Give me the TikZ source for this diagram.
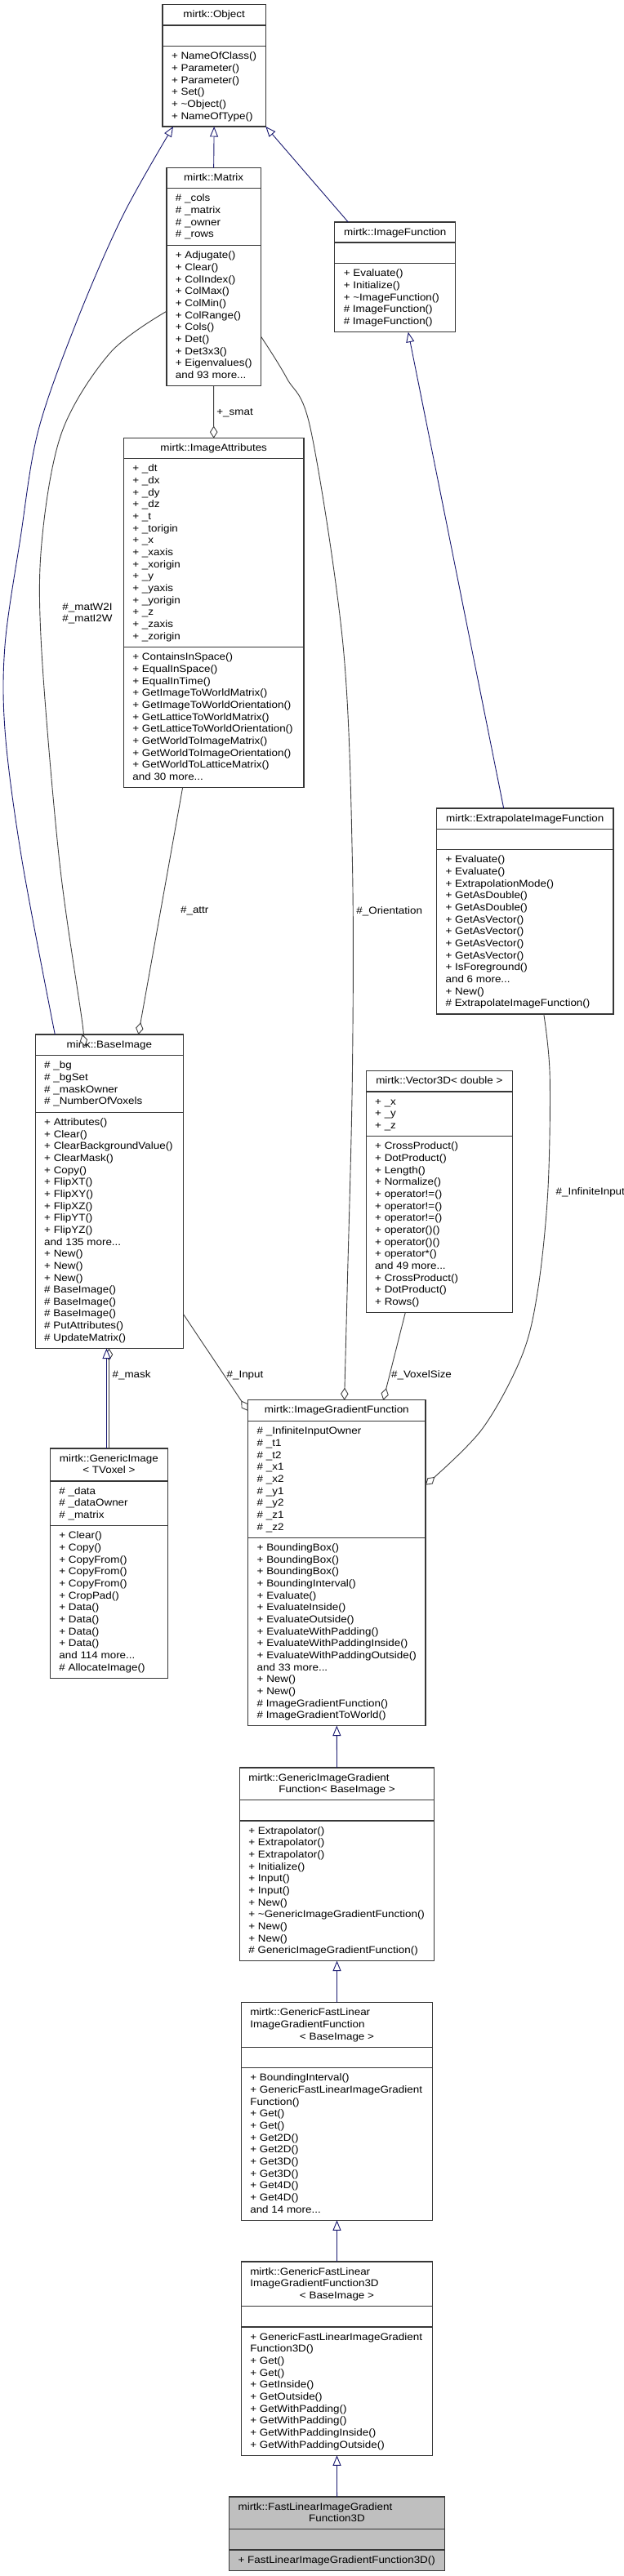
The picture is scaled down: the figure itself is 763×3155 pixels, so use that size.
\documentclass[tikz,border=0pt]{standalone}
\usepackage{fontspec}
\setmainfont{Liberation Sans}[FakeStretch=1.1]
\usetikzlibrary{arrows.meta,calc}
\definecolor{boxc}{RGB}{55,55,55}
\definecolor{inhc}{RGB}{25,25,112}
\definecolor{aggc}{RGB}{64,64,64}
\definecolor{mainfill}{RGB}{191,191,191}
\newcommand\umlfont{\fontsize{12.2}{14.65}\selectfont}
\newcommand\nl{\\\strut}
\tikzset{
  box/.style={draw=boxc, line width=1.2pt, inner sep=0pt, outer sep=0pt, anchor=north west},
  sepl/.style={draw=boxc, line width=1.2pt},
  txt/.style={inner sep=0pt, outer sep=0pt, align=left, font=\umlfont, anchor=north west},
  ttl/.style={inner sep=0pt, outer sep=0pt, align=center, font=\umlfont, anchor=north},
  lbl/.style={inner sep=0pt, outer sep=0pt, font=\umlfont, anchor=base west},
  inh/.style={draw=inhc, line width=0.9pt, -{Triangle[length=12.5pt, width=10pt, fill=white]}},
  agg/.style={draw=aggc, line width=0.9pt, -{Diamond[length=15pt, width=9.5pt, fill=white]}},
}
% name, x1, x2, top, sep1, sep2, bottom, fill
\newcommand\umlbox[8]{%
  \node[box, fill=#8, minimum width=#3pt-#2pt, minimum height=#7pt-#4pt] (#1) at (#2,#4) {};
  \draw[sepl] (#1.west |- 0,#5) -- (#1.east |- 0,#5);
  \draw[sepl] (#1.west |- 0,#6) -- (#1.east |- 0,#6);
}
% name, box, y of section top, text
\newcommand\sect[4]{\node[txt] (#1) at ($(#2.west |- 0,#3)+(11,6)$) {\strut #4};}
% name, box, text (centered title)
\newcommand\ctitle[3]{\node[ttl] (#1) at ($(#2.north)+(0,6)$) {\strut #3};}
\begin{document}
\begin{tikzpicture}[x=1pt,y=-1pt]
\fill[white] (0,0) rectangle (763,3155);
\useasboundingbox (0,0) rectangle (763,3155);

% ---------------- boxes ----------------
\umlbox{obj}{199.0}{325.3}{5.7}{31}{56.7}{155}{white}
\ctitle{obj-t}{obj}{mirtk::Object}
\sect{obj-m}{obj}{56.7}{+ NameOfClass()\nl + Parameter()\nl + Parameter()\nl + Set()\nl + \textasciitilde Object()\nl + NameOfType()}

\umlbox{mat}{203.9}{319.4}{205.7}{230.7}{300.7}{472.3}{white}
\ctitle{mat-t}{mat}{mirtk::Matrix}
\sect{mat-a}{mat}{230.7}{\# \_cols\nl \# \_matrix\nl \# \_owner\nl \# \_rows}
\sect{mat-m}{mat}{300.7}{+ Adjugate()\nl + Clear()\nl + ColIndex()\nl + ColMax()\nl + ColMin()\nl + ColRange()\nl + Cols()\nl + Det()\nl + Det3x3()\nl + Eigenvalues()\nl and 93 more...}

\umlbox{ifn}{409.8}{557.7}{272}{297}{322.7}{406.7}{white}
\ctitle{ifn-t}{ifn}{mirtk::ImageFunction}
\sect{ifn-m}{ifn}{322.7}{+ Evaluate()\nl + Initialize()\nl + \textasciitilde ImageFunction()\nl \# ImageFunction()\nl \# ImageFunction()}

\umlbox{iattr}{151.4}{372.0}{536.7}{561.7}{792.7}{964.7}{white}
\ctitle{iattr-t}{iattr}{mirtk::ImageAttributes}
\sect{iattr-a}{iattr}{561.7}{+ \_dt\nl + \_dx\nl + \_dy\nl + \_dz\nl + \_t\nl + \_torigin\nl + \_x\nl + \_xaxis\nl + \_xorigin\nl + \_y\nl + \_yaxis\nl + \_yorigin\nl + \_z\nl + \_zaxis\nl + \_zorigin}
\sect{iattr-m}{iattr}{792.7}{+ ContainsInSpace()\nl + EqualInSpace()\nl + EqualInTime()\nl + GetImageToWorldMatrix()\nl + GetImageToWorldOrientation()\nl + GetLatticeToWorldMatrix()\nl + GetLatticeToWorldOrientation()\nl + GetWorldToImageMatrix()\nl + GetWorldToImageOrientation()\nl + GetWorldToLatticeMatrix()\nl and 30 more...}

\umlbox{ext}{534.6}{750.9}{990}{1015.7}{1040.7}{1242}{white}
\ctitle{ext-t}{ext}{mirtk::ExtrapolateImageFunction}
\sect{ext-m}{ext}{1040.7}{+ Evaluate()\nl + Evaluate()\nl + ExtrapolationMode()\nl + GetAsDouble()\nl + GetAsDouble()\nl + GetAsVector()\nl + GetAsVector()\nl + GetAsVector()\nl + GetAsVector()\nl + IsForeground()\nl and 6 more...\nl + New()\nl \# ExtrapolateImageFunction()}

\umlbox{bimg}{43.2}{224.6}{1267}{1292.7}{1362.3}{1651.5}{white}
\ctitle{bimg-t}{bimg}{mirtk::BaseImage}
\sect{bimg-a}{bimg}{1292.7}{\# \_bg\nl \# \_bgSet\nl \# \_maskOwner\nl \# \_NumberOfVoxels}
\sect{bimg-m}{bimg}{1362.3}{+ Attributes()\nl + Clear()\nl + ClearBackgroundValue()\nl + ClearMask()\nl + Copy()\nl + FlipXT()\nl + FlipXY()\nl + FlipXZ()\nl + FlipYT()\nl + FlipYZ()\nl and 135 more...\nl + New()\nl + New()\nl + New()\nl \# BaseImage()\nl \# BaseImage()\nl \# BaseImage()\nl \# PutAttributes()\nl \# UpdateMatrix()}

\umlbox{v3}{448.2}{627.5}{1311.3}{1337}{1391.7}{1607.5}{white}
\ctitle{v3-t}{v3}{mirtk::Vector3D< double >}
\sect{v3-a}{v3}{1337}{+ \_x\nl + \_y\nl + \_z}
\sect{v3-m}{v3}{1391.7}{+ CrossProduct()\nl + DotProduct()\nl + Length()\nl + Normalize()\nl + operator!=()\nl + operator!=()\nl + operator!=()\nl + operator()()\nl + operator()()\nl + operator*()\nl and 49 more...\nl + CrossProduct()\nl + DotProduct()\nl + Rows()}

\umlbox{gimg}{61.4}{205.4}{1774}{1814}{1868.7}{2055.3}{white}
\ctitle{gimg-t}{gimg}{mirtk::GenericImage\nl < TVoxel >}
\sect{gimg-a}{gimg}{1814}{\# \_data\nl \# \_dataOwner\nl \# \_matrix}
\sect{gimg-m}{gimg}{1868.7}{+ Clear()\nl + Copy()\nl + CopyFrom()\nl + CopyFrom()\nl + CopyFrom()\nl + CropPad()\nl + Data()\nl + Data()\nl + Data()\nl + Data()\nl and 114 more...\nl \# AllocateImage()}

\umlbox{igf}{303.7}{520.9}{1714.7}{1740.7}{1883.3}{2113.5}{white}
\ctitle{igf-t}{igf}{mirtk::ImageGradientFunction}
\sect{igf-a}{igf}{1740.7}{\# \_InfiniteInputOwner\nl \# \_t1\nl \# \_t2\nl \# \_x1\nl \# \_x2\nl \# \_y1\nl \# \_y2\nl \# \_z1\nl \# \_z2}
\sect{igf-m}{igf}{1883.3}{+ BoundingBox()\nl + BoundingBox()\nl + BoundingBox()\nl + BoundingInterval()\nl + Evaluate()\nl + EvaluateInside()\nl + EvaluateOutside()\nl + EvaluateWithPadding()\nl + EvaluateWithPaddingInside()\nl + EvaluateWithPaddingOutside()\nl and 33 more...\nl + New()\nl + New()\nl \# ImageGradientFunction()\nl \# ImageGradientToWorld()}

\umlbox{gigf}{293.4}{531.7}{2165}{2204.7}{2230}{2401.5}{white}
\sect{gigf-t1}{gigf}{2165}{mirtk::GenericImageGradient}
\node[ttl] (gigf-t2) at ($(gigf.north)+(0,20.65)$) {\strut Function< BaseImage >};
\sect{gigf-m}{gigf}{2230}{+ Extrapolator()\nl + Extrapolator()\nl + Extrapolator()\nl + Initialize()\nl + Input()\nl + Input()\nl + New()\nl + \textasciitilde GenericImageGradientFunction()\nl + New()\nl + New()\nl \# GenericImageGradientFunction()}

\umlbox{gfl}{295.3}{529.7}{2452.7}{2507.3}{2532.7}{2719.3}{white}
\sect{gfl-t1}{gfl}{2452.7}{mirtk::GenericFastLinear\nl ImageGradientFunction}
\node[ttl] (gfl-t2) at ($(gfl.north)+(0,35.3)$) {\strut < BaseImage >};
\sect{gfl-m}{gfl}{2532.7}{+ BoundingInterval()\nl + GenericFastLinearImageGradient\nl Function()\nl + Get()\nl + Get()\nl + Get2D()\nl + Get2D()\nl + Get3D()\nl + Get3D()\nl + Get4D()\nl + Get4D()\nl and 14 more...}

\umlbox{gfl3}{295.3}{529.7}{2770}{2824.5}{2850}{3007.3}{white}
\sect{gfl3-t1}{gfl3}{2770}{mirtk::GenericFastLinear\nl ImageGradientFunction3D}
\node[ttl] (gfl3-t2) at ($(gfl3.north)+(0,35.3)$) {\strut < BaseImage >};
\sect{gfl3-m}{gfl3}{2850}{+ GenericFastLinearImageGradient\nl Function3D()\nl + Get()\nl + Get()\nl + GetInside()\nl + GetOutside()\nl + GetWithPadding()\nl + GetWithPadding()\nl + GetWithPaddingInside()\nl + GetWithPaddingOutside()}

\umlbox{fl3}{280.6}{544.5}{3058}{3097.5}{3123}{3148.7}{mainfill}
\sect{fl3-t1}{fl3}{3058}{mirtk::FastLinearImageGradient}
\node[ttl] (fl3-t2) at ($(fl3.north)+(0,20.65)$) {\strut Function3D};
\sect{fl3-m}{fl3}{3123}{+ FastLinearImageGradientFunction3D()}

% ---------------- helper coordinates ----------------
\coordinate (ifn-o) at ($(ifn.north west)+(16.5,0)$);
\coordinate (bimg-o) at ($(bimg.north west)+(24.1,0)$);
\coordinate (obj-b) at ($(obj.south west)+(13,0)$);
\coordinate (ext-i) at ($(ext.north west)+(82.1,0)$);
\coordinate (ifn-e) at ($(ifn.south west)+(90,0)$);
\coordinate (mat-w) at (mat.west |- 0,381.3);
\coordinate (bimg-m) at ($(bimg.north west)+(57.5,0)$);
\coordinate (iattr-b) at ($(iattr.south west)+(72.2,0)$);
\coordinate (bimg-a) at ($(bimg.north west)+(126.3,0)$);
\coordinate (mat-e) at (mat.east |- 0,412);
\coordinate (igf-o) at ($(igf.north west)+(117.9,0)$);
\coordinate (ext-b) at ($(ext.south west)+(131.2,0)$);
\coordinate (igf-i) at (igf.east |- 0,1818.7);
\coordinate (v3-b) at ($(v3.south west)+(48.1,0)$);
\coordinate (igf-v) at ($(igf.north west)+(165.6,0)$);
\coordinate (bimg-e) at (bimg.east |- 0,1609.7);
\coordinate (igf-w) at (igf.west |- 0,1728);
\coordinate (gimg-n1) at (gimg.north -| 130.5,0);
\coordinate (bimg-s1) at (bimg.south -| 130.5,0);
\coordinate (gimg-n2) at (gimg.north -| 133.5,0);
\coordinate (bimg-s2) at (bimg.south -| 133.5,0);

% ---------------- aggregation edges ----------------
\draw[agg] (mat.south) -- (iattr.north);
\draw[agg] plot[smooth, tension=0.55] coordinates {(mat-w) (135,432) (76.2,528) (51.6,659) (50.6,791) (72.7,1054) (100.7,1252) (bimg-m)};
\draw[agg] (iattr-b) -- (bimg-a);
\draw[agg] plot[smooth, tension=0.55] coordinates {(mat-e) (351,463) (380.8,528) (420.1,791) (431.4,1054) (431.4,1317) (425.1,1580) (igf-o)};
\draw[agg] plot[smooth, tension=0.55] coordinates {(ext-b) (673.2,1317) (670.8,1459) (658.5,1580) (638.8,1661) (589.7,1751) (igf-i)};
\draw[agg] (v3-b) -- (igf-v);
\draw[agg] (bimg-e) -- (igf-w);
\draw[agg] (gimg-n2) -- (bimg-s2);

% ---------------- inheritance edges ----------------
\draw[inh] (mat.north) -- (obj.south);
\draw[inh] (ifn-o) -- (obj.south east);
\draw[inh] plot[smooth, tension=0.55] coordinates {(bimg-o) (27,1054) (6.5,900) (6,791) (25,659) (46.7,528) (93,396) (149.9,265) (obj-b)};
\draw[inh] (ext-i) -- (ifn-e);
\draw[inh] (gimg-n1) -- (bimg-s1);
\draw[inh] (gigf.north) -- (igf.south);
\draw[inh] (gfl.north) -- (gigf.south);
\draw[inh] (gfl3.north) -- (gfl.south);
\draw[inh] (fl3.north) -- (gfl3.south);

% ---------------- labels ----------------
\node[lbl] (l-smat) at (265.4,508.1) {+\_smat};
\node[lbl, anchor=base east] (l-w2i) at (137.6,747.1) {\#\_matW2I};
\node[lbl, anchor=base east] (l-i2w) at (137.6,761.1) {\#\_matI2W};
\node[lbl] (l-attr) at (221.1,1118.4) {\#\_attr};
\node[lbl] (l-orient) at (436.4,1119.1) {\#\_Orientation};
\node[lbl] (l-inf) at (680.6,1463.4) {\#\_InfiniteInput};
\node[lbl] (l-mask) at (137.6,1687.4) {\#\_mask};
\node[lbl] (l-input) at (277.6,1687.4) {\#\_Input};
\node[lbl] (l-voxel) at (479.1,1687.4) {\#\_VoxelSize};
\end{tikzpicture}
\end{document}
